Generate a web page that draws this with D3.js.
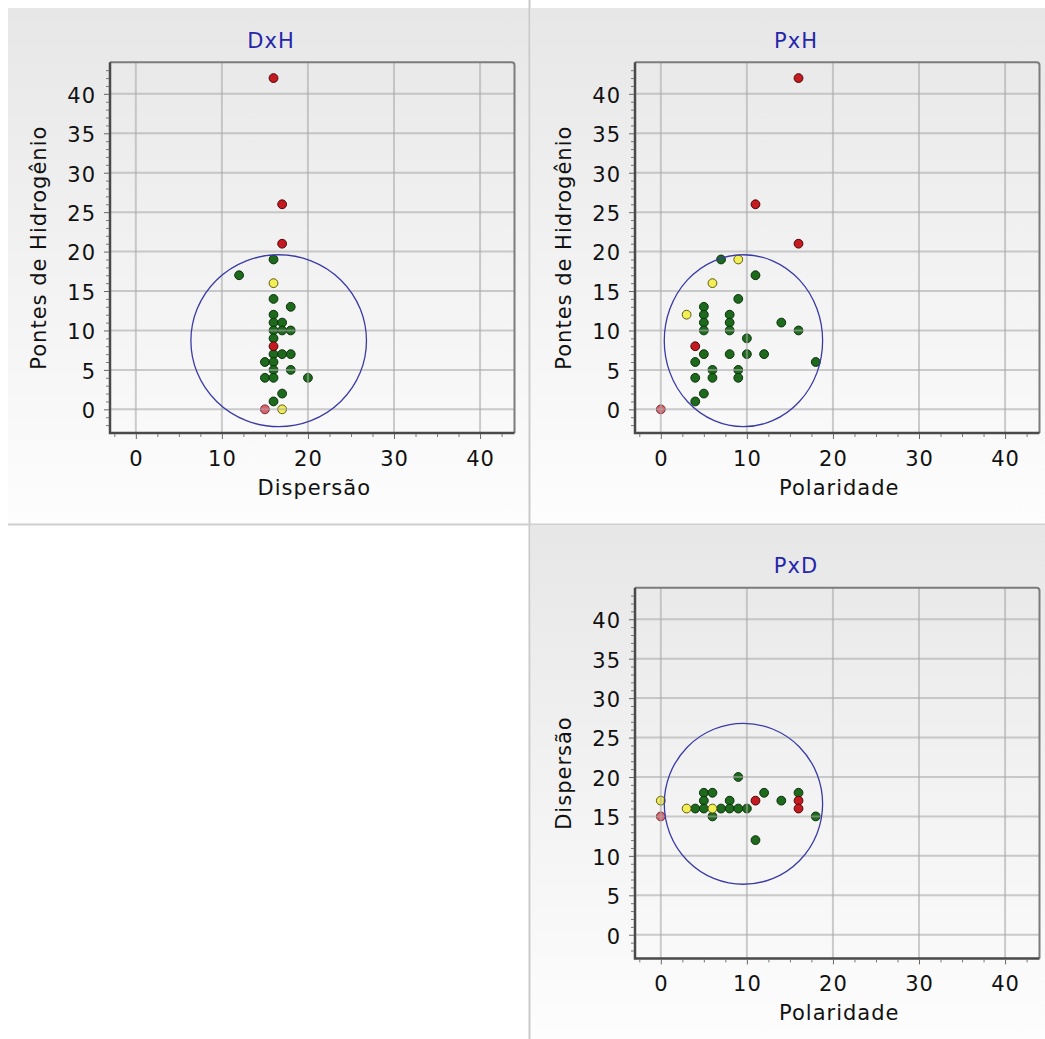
<!DOCTYPE html>
<html>
<head>
<meta charset="utf-8">
<script src="https://cdn.jsdelivr.net/npm/d3@7"></script>
<style>
  html, body { margin: 0; padding: 0; background: #ffffff; }
  svg { display: block; }
  text { font-family: "DejaVu Sans", Verdana, sans-serif; }
</style>
</head>
<body>
<svg id="chart" width="1045" height="1039"></svg>
<script>
// ---- Data: Hansen parameters of the tested solvents, per projection ----
// status: 0 = dissolve (verde), 1 = parcial (amarelo), 2 = não dissolve (vermelho), 3 = não dissolve, apolar (rosa)

// DxH : Dispersão (x) vs Pontes de Hidrogênio (y)
const dxhDisp = [16, 12, 16, 18, 16, 16, 17, 16, 17, 18, 16, 16, 17, 18, 15, 16, 16, 18, 15, 16, 20, 17, 16, 16, 17, 16, 17, 17, 16, 15];
const dxhHyd  = [19, 17, 14, 13, 12, 11, 11, 10, 10, 10,  9,  7,  7,  7,  6,  6,  5,  5,  4,  4,  4,  2,  1, 16,  0, 42, 26, 21,  8,  0];
const dxhStatus = [0, 0, 0, 0, 0, 0, 0, 0, 0, 0, 0, 0, 0, 0, 0, 0, 0, 0, 0, 0, 0, 0, 0, 1, 1, 2, 2, 2, 2, 3];

// PxH : Polaridade (x) vs Pontes de Hidrogênio (y)
const pxhPol = [7, 11, 9, 5, 5, 5, 5, 8, 8, 8, 14, 16, 10, 5, 8, 10, 12, 18, 4, 6, 9, 4, 6, 9, 5, 4, 9, 6, 3, 16, 11, 16, 4, 0];
const pxhHyd = [19, 17, 14, 13, 12, 11, 10, 12, 11, 10, 11, 10, 9, 7, 7, 7, 7, 6, 6, 5, 5, 4, 4, 4, 2, 1, 19, 16, 12, 42, 26, 21, 8, 0];
const pxhStatus = [0, 0, 0, 0, 0, 0, 0, 0, 0, 0, 0, 0, 0, 0, 0, 0, 0, 0, 0, 0, 0, 0, 0, 0, 0, 0, 1, 1, 1, 2, 2, 2, 2, 3];

// PxD : Polaridade (x) vs Dispersão (y)
const pxdPol  = [9, 5, 6, 12, 16, 14, 5, 8, 4, 5, 7, 8, 9, 10, 6, 18, 11, 0, 3, 6, 11, 16, 16, 0];
const pxdDisp = [20, 18, 18, 18, 18, 17, 17, 17, 16, 16, 16, 16, 16, 16, 15, 15, 12, 17, 16, 16, 17, 17, 16, 15];
const pxdStatus = [0, 0, 0, 0, 0, 0, 0, 0, 0, 0, 0, 0, 0, 0, 0, 0, 0, 1, 1, 1, 2, 2, 2, 3];

// Solubility sphere: centre and radius along each parameter
const sphereCenter = { D: 16.6, P: 9.6, H: 8.7 };
const sphereRadius = { D: 10.2, P: 9.2, H: 10.9 };

// Axis ticks
const axisDomain = [-3, 44];
const xMajorTicks = [0, 10, 20, 30, 40];
const yMajorTicks = [0, 5, 10, 15, 20, 25, 30, 35, 40];

const statusFill   = ["#1d6a1d", "#f2ee55", "#c51a1f", "#e0606c"];
const statusStroke = ["#0b300b", "#5e5a10", "#4a0607", "#6a2a30"];

// ---- Layout ----
const svg = d3.select("#chart");
const W = 1045, H = 1039;

const defs = svg.append("defs");
const grad = defs.append("linearGradient")
  .attr("id", "panelBg").attr("x1", 0).attr("y1", 0).attr("x2", 0).attr("y2", 1);
grad.append("stop").attr("offset", "0%").attr("stop-color", "#e7e7e7");
grad.append("stop").attr("offset", "100%").attr("stop-color", "#fdfdfd");

// panel boxes
const panels = [
  { title: "DxH", box: [8, 8, 521, 516], frame: [110, 62.3], xLabel: "Dispersão", yLabel: "Pontes de Hidrogênio",
    xs: dxhDisp, ys: dxhHyd, st: dxhStatus, cx: "D", cy: "H" },
  { title: "PxH", box: [531, 8, 514, 516], frame: [635, 62.3], xLabel: "Polaridade", yLabel: "Pontes de Hidrogênio",
    xs: pxhPol, ys: pxhHyd, st: pxhStatus, cx: "P", cy: "H" },
  { title: "PxD", box: [531, 526, 514, 513], frame: [635, 587.7], xLabel: "Polaridade", yLabel: "Dispersão",
    xs: pxdPol, ys: pxdDisp, st: pxdStatus, cx: "P", cy: "D" }
];

const plotW = 404.5, plotH = 370.7;

panels.forEach(p => {
  svg.append("rect")
    .attr("x", p.box[0]).attr("y", p.box[1])
    .attr("width", p.box[2]).attr("height", p.box[3])
    .attr("fill", "url(#panelBg)");
});

// separators between panels
svg.append("line").attr("x1", 529.5).attr("x2", 529.5).attr("y1", 0).attr("y2", H)
  .attr("stroke", "#c9c9c9").attr("stroke-width", 2);
svg.append("line").attr("x1", 8).attr("x2", W).attr("y1", 524.5).attr("y2", 524.5)
  .attr("stroke", "#d0d0d0").attr("stroke-width", 2);

panels.forEach(p => {
  const [fx, fy] = p.frame;
  const x = d3.scaleLinear().domain(axisDomain).range([0, plotW]);
  const y = d3.scaleLinear().domain(axisDomain).range([plotH, 0]);
  const g = svg.append("g").attr("transform", `translate(${fx},${fy})`);

  // title
  g.append("text")
    .attr("x", 161).attr("y", -14.5)
    .attr("text-anchor", "middle")
    .attr("font-size", 21).attr("letter-spacing", 1)
    .attr("fill", "#2626ad")
    .text(p.title);

  // points
  const idx = d3.range(p.xs.length);
  g.append("g").selectAll("circle").data(idx).join("circle")
    .attr("cx", i => x(p.xs[i]))
    .attr("cy", i => y(p.ys[i]))
    .attr("r", 4.4)
    .attr("fill", i => statusFill[p.st[i]])
    .attr("stroke", i => statusStroke[p.st[i]])
    .attr("stroke-width", 1);

  // grid (drawn over the markers, semi-transparent)
  const grid = g.append("g").attr("stroke", "#a8a8a8").attr("stroke-opacity", 0.58).attr("stroke-width", 2);
  grid.selectAll("line.v").data(xMajorTicks).join("line")
    .attr("class", "v")
    .attr("x1", d => x(d)).attr("x2", d => x(d))
    .attr("y1", 0).attr("y2", plotH);
  grid.selectAll("line.h").data(yMajorTicks).join("line")
    .attr("class", "h")
    .attr("x1", 0).attr("x2", plotW)
    .attr("y1", d => y(d)).attr("y2", d => y(d));

  // solubility sphere projection
  const c = sphereCenter, r = sphereRadius;
  g.append("ellipse")
    .attr("cx", x(c[p.cx])).attr("cy", y(c[p.cy]))
    .attr("rx", x(c[p.cx] + r[p.cx]) - x(c[p.cx]))
    .attr("ry", y(c[p.cy]) - y(c[p.cy] + r[p.cy]))
    .attr("fill", "none")
    .attr("stroke", "#3a3aa6")
    .attr("stroke-width", 1.3);

  // frame
  g.append("path")
    .attr("d", `M0,0 H${plotW - 3} Q${plotW},0 ${plotW},3 V${plotH}`)
    .attr("fill", "none").attr("stroke", "#7c7c7c").attr("stroke-width", 2);
  g.append("path")
    .attr("d", `M0,0 V${plotH} H${plotW}`)
    .attr("fill", "none").attr("stroke", "#4a4a4a").attr("stroke-width", 2.5);

  // x axis: minor ticks every 2.5
  const xMinor = d3.range(-2.5, 44, 2.5).filter(v => v % 10 !== 0);
  const xMinorAxis = d3.axisBottom(x).tickValues(xMinor).tickSize(3).tickFormat("");
  const xm = g.append("g").attr("transform", `translate(0,${plotH + 1})`).call(xMinorAxis);
  xm.select(".domain").remove();
  xm.selectAll("line").attr("stroke", "#777");

  const xAxis = d3.axisBottom(x).tickValues(xMajorTicks).tickSize(5).tickPadding(12).tickFormat(d3.format("d"));
  const xa = g.append("g").attr("transform", `translate(0,${plotH + 1})`).call(xAxis);
  xa.select(".domain").remove();
  xa.selectAll("line").attr("stroke", "#666");
  xa.selectAll("text")
    .attr("font-family", "DejaVu Sans, Verdana, sans-serif")
    .attr("font-size", 21).attr("letter-spacing", 1).attr("fill", "#111");

  // y axis: minor ticks every 1
  const yMinor = d3.range(-2, 44, 1).filter(v => v % 5 !== 0);
  const yMinorAxis = d3.axisLeft(y).tickValues(yMinor).tickSize(3).tickFormat("");
  const ym = g.append("g").attr("transform", "translate(-1,0)").call(yMinorAxis);
  ym.select(".domain").remove();
  ym.selectAll("line").attr("stroke", "#777");

  const yAxis = d3.axisLeft(y).tickValues(yMajorTicks).tickSize(5).tickPadding(8).tickFormat(d3.format("d"));
  const ya = g.append("g").attr("transform", "translate(-1,0)").call(yAxis);
  ya.select(".domain").remove();
  ya.selectAll("line").attr("stroke", "#666");
  ya.selectAll("text")
    .attr("font-family", "DejaVu Sans, Verdana, sans-serif")
    .attr("font-size", 21).attr("letter-spacing", 1).attr("fill", "#111")
    .attr("dy", "0.4em");

  // axis titles
  g.append("text")
    .attr("x", plotW / 2 + 2).attr("y", plotH + 62)
    .attr("text-anchor", "middle")
    .attr("font-size", 21).attr("letter-spacing", 1).attr("fill", "#111")
    .text(p.xLabel);
  g.append("text")
    .attr("transform", `translate(-64,${plotH / 2}) rotate(-90)`)
    .attr("text-anchor", "middle")
    .attr("font-size", 21).attr("letter-spacing", 1).attr("fill", "#111")
    .text(p.yLabel);
});
</script>
</body>
</html>
